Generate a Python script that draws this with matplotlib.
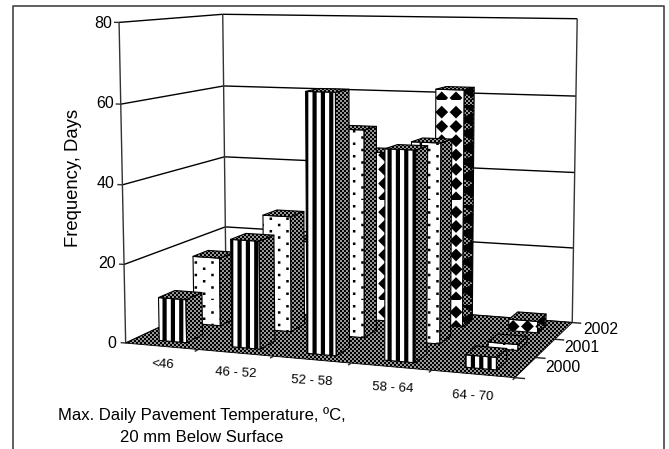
import numpy as np
import matplotlib
matplotlib.use("Agg")
import matplotlib.pyplot as plt
import matplotlib.hatch as mhatch
from matplotlib.lines import Line2D
from matplotlib.path import Path
from mpl_toolkits.mplot3d.art3d import Poly3DCollection, Line3DCollection

categories = ["<46", "46 - 52", "52 - 58", "58 - 64", "64 - 70"]
years = ["2000", "2001", "2002"]
z_ticks = [0, 20, 40, 60, 80]
values_2000 = [11, 27, 64, 51, 3]
values_2001 = [18, 30, 53, 50.5, 1.5]
values_2002 = [0, 20, 45, 62, 3]

W, H = 669, 449
plt.rcParams["font.family"] = ["Liberation Sans", "DejaVu Sans"]
plt.rcParams["hatch.linewidth"] = 0.01


# ---- bitmap-like fill patterns, as in the original chart -------------------
def square(cx, cy, s):
    return np.array([[cx - s, cy - s], [cx + s, cy - s], [cx + s, cy + s], [cx - s, cy + s]])


def stripes():
    n, off = 12, 0.5 / 12
    return [np.array([[i / n + off, 0], [(i + .5) / n + off, 0], [(i + .5) / n + off, 1], [i / n + off, 1]])
            for i in range(n)]


def dots():
    out = []
    for i in range(12):
        for j in range(8):
            out.append(square((i + .5) / 12, (j + .5 + .5 * (i % 2)) / 8 % 1, 0.0125))
    return out


def diamonds():
    n, r, out = 7, 0.064, []
    for i in range(n):
        for j in range(n):
            cx, cy = ((i + .5) / n + .06) % 1, ((j + .5) / n - .05) % 1
            out.append(np.array([[cx - r, cy], [cx, cy - r], [cx + r, cy], [cx, cy + r]]))
    return out


def dither():
    n, out = 50, []
    for i in range(n):
        for j in range(n):
            if (i + j) % 2 == 0:
                out.append(np.array([[i / n, j / n], [(i + 1) / n, j / n],
                                     [(i + 1) / n, (j + 1) / n], [i / n, (j + 1) / n]]))
    return out


def notches():
    n, out = 7, []
    for i in range(n):
        for j in range(n):
            x0, y0, p = i / n + .02, j / n - .05, 1 / n
            out.append(np.array([[x0, y0], [x0 + p, y0], [x0 + p, y0 + p / 2]]))
            out.append(np.array([[x0, y0 + p], [x0 + p, y0 + p / 2], [x0 + p, y0 + p]]))
    return out


def tile(char, polys):
    class Tile(mhatch.HatchPatternBase):
        def __init__(self, hatch, density):
            self.num_vertices = sum(len(p) + 1 for p in polys) if char in hatch else 0

        def set_vertices_and_codes(self, vertices, codes):
            k = 0
            for p in polys:
                m = len(p)
                vertices[k:k + m] = p
                vertices[k + m] = p[0]
                codes[k] = Path.MOVETO
                codes[k + 1:k + m] = Path.LINETO
                codes[k + m] = Path.CLOSEPOLY
                k += m + 1
    return Tile


mhatch._hatch_types[:] = [tile("|", stripes()), tile(".", dots()), tile("O", diamonds()),
                          tile("x", dither()), tile("+", notches())]

# ---- camera: projective fit of chart box corners to their pixel places ------
box_3d = np.array([[0, 0, 0], [5, 0, 0], [5, 3, 0], [0, 3, 0], [0, 0, 80], [0, 3, 80],
                   [5, 3, 80], [0, 0, 40], [0, 3, 40], [5, 3, 40]], float)
box_px = np.array([[126, 343], [515, 378], [572, 322], [226, 296.5], [119, 23], [223, 14],
                   [577, 18.5], [122, 184], [224.5, 157], [575, 173]], float)
A, b = [], []
for (X, Y, Z), (u, v) in zip(box_3d, box_px):
    A.append([X, Y, Z, 1, 0, 0, 0, 0, -u * X, -u * Y, -u * Z]); b.append(u)
    A.append([0, 0, 0, 0, X, Y, Z, 1, -v * X, -v * Y, -v * Z]); b.append(v)
p = np.linalg.lstsq(np.array(A), np.array(b), rcond=None)[0]
M = np.array([[p[0], p[1], p[2], p[3]],
              [p[4], p[5], p[6], p[7]],
              [-0.1, 1.0, 0.0, 0.0],
              [p[8], p[9], p[10], 1.0]])

fig = plt.figure(figsize=(W / 100, H / 100), dpi=100)
ax = fig.add_axes([0, 0, 1, 1], projection="3d", computed_zorder=False)
ax.set_axis_off()
ax.set_autoscale_on(False)
ax.get_proj = lambda: M
ax.apply_aspect = lambda position=None: None
ax.set_position([0, 0, 1, 1])


def lines(segs, color="black", lw=0.9, z=1):
    ax.add_collection3d(Line3DCollection(segs, colors=color, linewidths=lw, zorder=z))


# walls
n_x, n_y, z_max = len(categories), len(years), z_ticks[-1]
grid, axis = [], []
for zv in z_ticks:
    grid.append([(0, 0, zv), (0, n_y, zv)])
    grid.append([(0, n_y, zv), (n_x, n_y, zv)])
    axis.append([(0, 0, zv), (-0.07, 0, zv)])
for cx, cy in [(0, 0), (0, n_y), (n_x, n_y)]:
    axis.append([(cx, cy, 0), (cx, cy, z_max)])
lines(grid, color="black", lw=1.0)
lines(axis, color="#333333", lw=1.0)

# floor
ax.add_collection3d(Poly3DCollection([[(0, 0, 0), (n_x, 0, 0), (n_x, n_y, 0), (0, n_y, 0)]],
                                     facecolors="#9a9a9a", edgecolors="black", linewidths=0.6,
                                     hatch="x", zorder=2))
ticks = [[(i, 0, 0), (i, -0.1, 0)] for i in range(1, n_x + 1)]
ticks += [[(n_x, j, 0), (n_x + 0.12, j, 0)] for j in range(n_y + 1)]
lines(ticks, color="#222222", lw=1.0, z=3)

# bars, back row first
series = [(values_2002, 2, "O", "+x", "x"), (values_2001, 1, ".", "x", "x"), (values_2000, 0, "|", "x", "x")]
bar_w, bar_d = 0.38, 0.46
order = 10
for vals, row, front_h, side_h, top_h in series:
    y0, y1 = row + .5 - bar_d / 2, row + .5 + bar_d / 2
    for i, h in enumerate(vals):
        if h <= 0:
            continue
        x0, x1 = i + .52 - bar_w / 2, i + .52 + bar_w / 2
        faces = [([(x0, y0, 0), (x1, y0, 0), (x1, y0, h), (x0, y0, h)], front_h, "white"),
                 ([(x1, y0, 0), (x1, y1, 0), (x1, y1, h), (x1, y0, h)], side_h, "#9a9a9a"),
                 ([(x0, y0, h), (x1, y0, h), (x1, y1, h), (x0, y1, h)], top_h, "#9a9a9a")]
        for verts, hatch, fc in faces:
            ax.add_collection3d(Poly3DCollection([verts], facecolors=fc, edgecolors="black",
                                                 linewidths=0.8, hatch=hatch, zorder=order))
            order += 1

ax.viewLim.intervalx = (0, W)
ax.viewLim.intervaly = (H, 0)


def px_text(x, y, s, size, **kw):
    kw.setdefault("ha", "center")
    kw.setdefault("va", "center")
    fig.text(x / W, 1 - y / H, s, fontsize=size, color="black", **kw)


for zv, x, y in zip(z_ticks, [116, 116, 115, 114, 112], [343, 264, 184, 104, 23]):
    px_text(x, y, str(zv), 11.5, ha="right")
for s, (x, y) in zip(categories, [(163, 365), (236, 373), (312, 381), (393, 388), (473, 396)]):
    px_text(x, y, s, 9.5, rotation=-3)
for s, (x, y) in zip(years, [(563, 368), (582, 348), (601, 330)]):
    px_text(x, y, s, 11.3)
px_text(74, 178, "Frequency, Days", 13.3, rotation=90)
px_text(202, 415, "Max. Daily Pavement Temperature, ºC,", 12)
px_text(202, 437, "20 mm Below Surface", 12)

frame = Line2D([13 / W, 13 / W, 664 / W, 664 / W], [0, 1 - 6 / H, 1 - 6 / H, 0],
               transform=fig.transFigure, color="#444444", lw=1.2)
fig.add_artist(frame)

fig.savefig("out.png", dpi=100)
